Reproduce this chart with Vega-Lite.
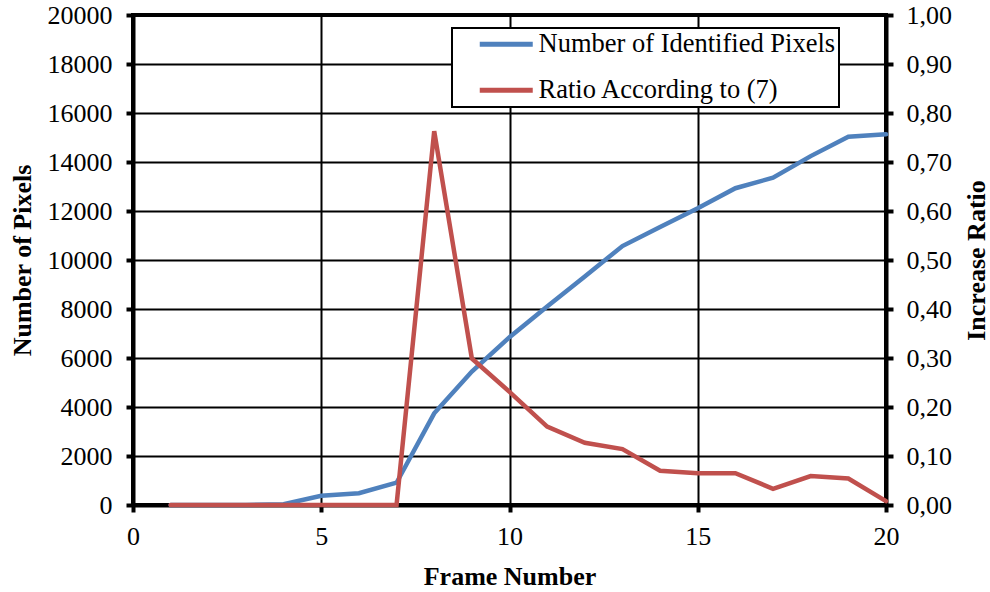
{
  "$schema": "https://vega.github.io/schema/vega-lite/v6.json",
  "width": 753,
  "height": 490,
  "autosize": {"type": "none"},
  "padding": {"left": 133, "top": 15, "right": 104, "bottom": 87},
  "background": "white",
  "config": {
    "font": "Liberation Serif",
    "view": {"stroke": "black", "strokeWidth": 4},
    "legend": {"labelFont": "Liberation Serif", "titleFont": "Liberation Serif"},
    "axis": {
      "labelFont": "Liberation Serif",
      "titleFont": "Liberation Serif",
      "labelFontSize": 26,
      "titleFontSize": 26,
      "titleFontWeight": "bold",
      "labelColor": "black",
      "titleColor": "black",
      "labelFlush": false,
      "labelOverlap": false,
      "domainColor": "black",
      "domainWidth": 4,
      "tickColor": "black",
      "tickWidth": 4,
      "tickSize": 7,
      "gridColor": "black",
      "gridWidth": 2,
      "gridOpacity": 1
    }
  },
  "data": {
    "values": [
      {"frame": 1, "series": "Number of Identified Pixels", "value": 0},
      {"frame": 2, "series": "Number of Identified Pixels", "value": 0},
      {"frame": 3, "series": "Number of Identified Pixels", "value": 0},
      {"frame": 4, "series": "Number of Identified Pixels", "value": 30},
      {"frame": 5, "series": "Number of Identified Pixels", "value": 380},
      {"frame": 6, "series": "Number of Identified Pixels", "value": 480},
      {"frame": 7, "series": "Number of Identified Pixels", "value": 910},
      {"frame": 8, "series": "Number of Identified Pixels", "value": 3740},
      {"frame": 9, "series": "Number of Identified Pixels", "value": 5450},
      {"frame": 10, "series": "Number of Identified Pixels", "value": 6850},
      {"frame": 11, "series": "Number of Identified Pixels", "value": 8100},
      {"frame": 12, "series": "Number of Identified Pixels", "value": 9330},
      {"frame": 13, "series": "Number of Identified Pixels", "value": 10570},
      {"frame": 14, "series": "Number of Identified Pixels", "value": 11350},
      {"frame": 15, "series": "Number of Identified Pixels", "value": 12110},
      {"frame": 16, "series": "Number of Identified Pixels", "value": 12930},
      {"frame": 17, "series": "Number of Identified Pixels", "value": 13360},
      {"frame": 18, "series": "Number of Identified Pixels", "value": 14240},
      {"frame": 19, "series": "Number of Identified Pixels", "value": 15030},
      {"frame": 20, "series": "Number of Identified Pixels", "value": 15130},
      {"frame": 1, "series": "Ratio According to (7)", "value": 0},
      {"frame": 2, "series": "Ratio According to (7)", "value": 0},
      {"frame": 3, "series": "Ratio According to (7)", "value": 0},
      {"frame": 4, "series": "Ratio According to (7)", "value": 0},
      {"frame": 5, "series": "Ratio According to (7)", "value": 0},
      {"frame": 6, "series": "Ratio According to (7)", "value": 0},
      {"frame": 7, "series": "Ratio According to (7)", "value": 0},
      {"frame": 8, "series": "Ratio According to (7)", "value": 0.763},
      {"frame": 9, "series": "Ratio According to (7)", "value": 0.299},
      {"frame": 10, "series": "Ratio According to (7)", "value": 0.231},
      {"frame": 11, "series": "Ratio According to (7)", "value": 0.160},
      {"frame": 12, "series": "Ratio According to (7)", "value": 0.127},
      {"frame": 13, "series": "Ratio According to (7)", "value": 0.114},
      {"frame": 14, "series": "Ratio According to (7)", "value": 0.070},
      {"frame": 15, "series": "Ratio According to (7)", "value": 0.065},
      {"frame": 16, "series": "Ratio According to (7)", "value": 0.065},
      {"frame": 17, "series": "Ratio According to (7)", "value": 0.033},
      {"frame": 18, "series": "Ratio According to (7)", "value": 0.059},
      {"frame": 19, "series": "Ratio According to (7)", "value": 0.054},
      {"frame": 20, "series": "Ratio According to (7)", "value": 0.008}
    ]
  },
  "encoding": {
    "x": {
      "field": "frame",
      "type": "quantitative",
      "scale": {"domain": [0, 20], "nice": false},
      "axis": {
        "title": "Frame Number",
        "values": [0, 5, 10, 15, 20],
        "grid": true,
        "labelPadding": 11,
        "titlePadding": 14
      }
    },
    "color": {
      "field": "series",
      "type": "nominal",
      "scale": {
        "domain": ["Number of Identified Pixels", "Ratio According to (7)"],
        "range": ["#4F81BD", "#C0504D"]
      },
      "legend": {
        "title": null,
        "orient": "none",
        "legendX": 319,
        "legendY": 13,
        "symbolType": "M-2.65,0H2.65",
        "symbolStrokeWidth": 5,
        "symbolSize": 400,
        "labelFont": "Liberation Serif",
        "labelFontSize": 26.5,
        "labelColor": "black",
        "labelLimit": 500,
        "labelOffset": 19,
        "labelExpr": "datum.label + '\u00a0\u00a0\u00a0\u00a0\u00a0'",
        "rowPadding": 19,
        "padding": 3,
        "symbolOffset": 38,
        "fillColor": "white",
        "strokeColor": "black",
        "encode": {"legend": {"update": {"strokeWidth": {"value": 2}}}}
      }
    }
  },
  "layer": [
    {
      "transform": [{"filter": "datum.series === 'Number of Identified Pixels'"}],
      "mark": {"type": "line", "strokeWidth": 4.5, "strokeCap": "round"},
      "encoding": {
        "y": {
          "field": "value",
          "type": "quantitative",
          "scale": {"domain": [0, 20000], "nice": false},
          "axis": {
            "title": "Number of Pixels",
            "orient": "left",
            "values": [0, 2000, 4000, 6000, 8000, 10000, 12000, 14000, 16000, 18000, 20000],
            "format": "d",
            "grid": true,
            "labelPadding": 14,
            "titlePadding": 12
          }
        }
      }
    },
    {
      "transform": [{"filter": "datum.series === 'Ratio According to (7)'"}],
      "mark": {"type": "line", "strokeWidth": 4.5, "strokeCap": "round"},
      "encoding": {
        "y": {
          "field": "value",
          "type": "quantitative",
          "scale": {"domain": [0, 1], "nice": false},
          "axis": {
            "title": "Increase Ratio",
            "orient": "right",
            "titleAngle": 270,
            "titleBaseline": "top",
            "values": [0, 0.1, 0.2, 0.3, 0.4, 0.5, 0.6, 0.7, 0.8, 0.9, 1],
            "labelExpr": "replace(format(datum.value, '.2f'), '.', ',')",
            "grid": false,
            "labelPadding": 13,
            "titlePadding": 12
          }
        }
      }
    }
  ],
  "resolve": {"scale": {"y": "independent"}}
}
